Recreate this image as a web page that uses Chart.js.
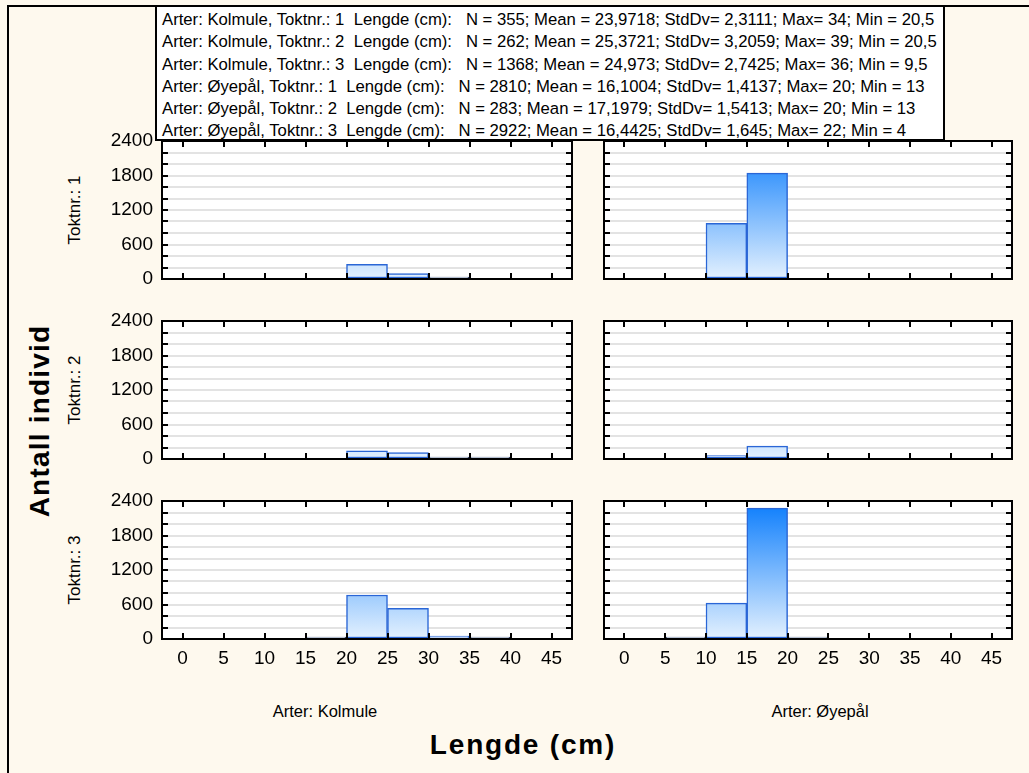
<!DOCTYPE html>
<html><head><meta charset="utf-8">
<script src="https://cdn.jsdelivr.net/npm/chart.js@4/dist/chart.umd.min.js"></script>
<style>
html,body{margin:0;padding:0;background:#fef9ee;width:1029px;height:773px;overflow:hidden;font-family:'Liberation Sans',Arial,sans-serif;}
#frame{position:absolute;left:7px;top:5px;width:1100px;height:900px;border-left:2px solid #000;border-top:2px solid #000;}
#header{position:absolute;left:155px;top:5px;width:790px;height:136px;box-sizing:border-box;border:2px solid #000;background:#fff;padding:2px 0 0 5px;z-index:2;overflow:hidden;}
#header div{font-size:16.7px;line-height:22.3px;white-space:pre;color:#000;}
canvas{position:absolute;z-index:1;}
.lbl{position:absolute;white-space:pre;color:#000;transform:translate(-50%,-50%);}
.rot{transform:translate(-50%,-50%) rotate(-90deg);}
</style></head><body>
<div id="frame"></div>
<div id="header"></div>
<script>
// ---- data ----
const xTicks = [0, 5, 10, 15, 20, 25, 30, 35, 40, 45];
const binStarts = [0, 5, 10, 15, 20, 25, 30, 35, 40];
const binWidth = 5;
const yTicks = [0, 600, 1200, 1800, 2400];
const species = ['Arter: Kolmule', 'Arter: Øyepål'];
const cruises = ['Toktnr.: 1', 'Toktnr.: 2', 'Toktnr.: 3'];
const kolmule1 = [0, 0, 0, 0, 256, 95, 4, 0, 0];
const kolmule2 = [0, 0, 0, 0, 140, 110, 8, 4, 0];
const kolmule3 = [0, 1, 2, 12, 765, 535, 50, 3, 0];
const oyepal1 = [0, 0, 970, 1840, 0, 0, 0, 0, 0];
const oyepal2 = [0, 0, 60, 223, 0, 0, 0, 0, 0];
const oyepal3 = [1, 12, 625, 2275, 9, 0, 0, 0, 0];
const headerLines = [
  'Arter: Kolmule, Toktnr.: 1  Lengde (cm):   N = 355; Mean = 23,9718; StdDv= 2,3111; Max= 34; Min = 20,5',
  'Arter: Kolmule, Toktnr.: 2  Lengde (cm):   N = 262; Mean = 25,3721; StdDv= 3,2059; Max= 39; Min = 20,5',
  'Arter: Kolmule, Toktnr.: 3  Lengde (cm):   N = 1368; Mean = 24,973; StdDv= 2,7425; Max= 36; Min = 9,5',
  'Arter: Øyepål, Toktnr.: 1  Lengde (cm):   N = 2810; Mean = 16,1004; StdDv= 1,4137; Max= 20; Min = 13',
  'Arter: Øyepål, Toktnr.: 2  Lengde (cm):   N = 283; Mean = 17,1979; StdDv= 1,5413; Max= 20; Min = 13',
  'Arter: Øyepål, Toktnr.: 3  Lengde (cm):   N = 2922; Mean = 16,4425; StdDv= 1,645; Max= 22; Min = 4'
];
const yTitle = 'Antall individ';
const xTitle = 'Lengde (cm)';
const seriesGrid = [[kolmule1, oyepal1], [kolmule2, oyepal2], [kolmule3, oyepal3]];

// ---- layout ----
const FONT = "'Liberation Sans', Arial, sans-serif";
const colLeft = [162, 604], colWidth = [410, 408];
const rowTop = [141, 321, 501], rowHeight = 138;
const xMin = -2.5, xMax = 47.5, yMax = 2400;

const hdr = document.getElementById('header');
headerLines.forEach(t => { const d = document.createElement('div'); d.textContent = t; hdr.appendChild(d); });

function addLabel(text, cx, cy, css, rot) {
  const d = document.createElement('div');
  d.className = 'lbl' + (rot ? ' rot' : '');
  d.textContent = text;
  d.style.left = cx + 'px'; d.style.top = cy + 'px';
  Object.assign(d.style, css);
  document.body.appendChild(d);
}
addLabel(yTitle, 40, 421, {fontSize: '28px', fontWeight: 'bold', letterSpacing: '1.2px'}, true);
addLabel(xTitle, 523, 745, {fontSize: '28px', fontWeight: 'bold', letterSpacing: '1.8px'}, false);
cruises.forEach((c, r) => addLabel(c, 75, rowTop[r] + rowHeight / 2, {fontSize: '17px'}, true));
addLabel(species[0], 325, 711, {fontSize: '16.5px'}, false);
addLabel(species[1], 820, 711, {fontSize: '16.5px'}, false);

const framePlugin = {
  id: 'panelFrame',
  beforeDraw(chart) {
    const {ctx, chartArea: a} = chart;
    ctx.save(); ctx.fillStyle = '#fff'; ctx.fillRect(a.left, a.top, a.width, a.height); ctx.restore();
  },
  afterDraw(chart) {
    const {ctx, chartArea: a, scales: {x, y}} = chart;
    ctx.save();
    ctx.strokeStyle = '#000'; ctx.lineWidth = 2;
    ctx.beginPath();
    y.ticks.forEach(t => {
      const py = Math.round(y.getPixelForValue(t.value));
      ctx.moveTo(a.left, py); ctx.lineTo(a.left + 6, py);
      ctx.moveTo(a.right, py); ctx.lineTo(a.right - 6, py);
    });
    x.ticks.forEach(t => {
      const px = Math.round(x.getPixelForValue(t.value));
      ctx.moveTo(px, a.top); ctx.lineTo(px, a.top + 6);
      ctx.moveTo(px, a.bottom); ctx.lineTo(px, a.bottom - 6);
    });
    ctx.stroke();
    ctx.strokeRect(a.left, a.top, a.width, a.height);
    ctx.restore();
  }
};

function barGradient(ctx) {
  const ch = ctx.chart;
  if (ctx.raw && ctx.raw.y < 3) return 'rgba(0,0,0,0)';
  if (!ch.chartArea) return '#9cc8fb';
  const y = ch.scales.y;
  const g = ch.ctx.createLinearGradient(0, y.getPixelForValue(0), 0, y.getPixelForValue(yMax));
  g.addColorStop(0, '#e4f1fe');
  g.addColorStop(1, '#0a7cfc');
  return g;
}
function barBorder(ctx) {
  const v = ctx.raw ? ctx.raw.y : 0;
  if (v < 3) return 'rgba(0,0,0,0)';
  return v < 20 ? '#13204a' : '#2a66d6';
}

for (let r = 0; r < 3; r++) {
  for (let c = 0; c < 2; c++) {
    const vals = seriesGrid[r][c];
    const padL = c === 0 ? 70 : 8, padR = 10, padT = 14, padB = r === 2 ? 40 : 8;
    const axW = c === 0 ? 70 : 0, axH = r === 2 ? 40 : 0;
    const cv = document.createElement('canvas');
    cv.width = colWidth[c] + padL + padR;
    cv.height = rowHeight + padT + padB;
    cv.style.left = (colLeft[c] - padL) + 'px';
    cv.style.top = (rowTop[r] - padT) + 'px';
    document.body.appendChild(cv);
    new Chart(cv, {
      type: 'bar',
      data: {
        datasets: [{
          data: binStarts.map((b, i) => ({x: b + binWidth / 2, y: vals[i] ? vals[i] : null})),
          backgroundColor: barGradient,
          borderColor: barBorder,
          borderWidth: 1.5,
          borderSkipped: false,
          barPercentage: 1,
          categoryPercentage: 1,
          minBarLength: 2
        }]
      },
      options: {
        responsive: false, animation: false, devicePixelRatio: 1,
        layout: {padding: {left: padL - axW, right: padR, top: padT, bottom: padB - axH}},
        plugins: {legend: {display: false}, tooltip: {enabled: false}},
        scales: {
          x: {
            type: 'linear', min: xMin, max: xMax, offset: false,
            grid: {display: false, drawTicks: false, offset: false},
            border: {display: false},
            ticks: {display: r === 2, autoSkip: false, maxRotation: 0, padding: 8, color: '#000',
                    font: {family: FONT, size: 19}, callback: v => String(v)},
            afterBuildTicks: s => { s.ticks = xTicks.map(v => ({value: v})); },
            afterFit: s => { s.height = axH; s.paddingLeft = 0; s.paddingRight = 0; s.paddingTop = 0; s.paddingBottom = 0; }
          },
          y: {
            min: 0, max: yMax,
            grid: {color: '#e3e3e3', lineWidth: 2, drawTicks: false},
            border: {display: false},
            ticks: {display: c === 0, stepSize: 200, autoSkip: false, padding: 9, color: '#000',
                    font: {family: FONT, size: 19},
                    callback: v => yTicks.includes(v) ? String(v) : ''},
            afterFit: s => { s.width = axW; s.paddingLeft = 0; s.paddingRight = 0; s.paddingTop = 0; s.paddingBottom = 0; }
          }
        }
      },
      plugins: [framePlugin]
    });
  }
}
</script>
</body></html>
